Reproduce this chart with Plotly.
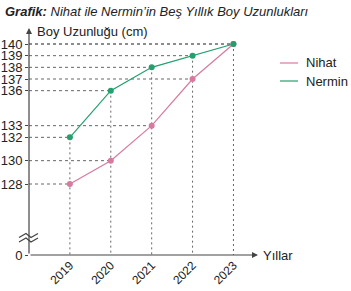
import plotly.graph_objects as go

years = [2019, 2020, 2021, 2022, 2023]
nihat = [128, 130, 133, 137, 140]
nermin = [132, 136, 138, 139, 140]
y_ticks = [128, 130, 132, 133, 136, 137, 138, 139, 140]
series_names = ["Nihat", "Nermin"]
colors = ["#d77a9f", "#23a06e"]

W, H = 351, 291
L, R, T, B = 29, 93, 28, 36
PW, PH = W - L - R, H - T - B
X0, X1 = 2018.0, 2023.6
PXY = 11.667
Y0 = 128 - (H - B - 184) / PXY
Y1 = Y0 + PH / PXY


def pp_x(p):
    return (p - L) / PW


def pp_y(p):
    return (H - B - p) / PH


fig = go.Figure()

# horizontal guide lines
hx, hy = [], []
for s in (nihat, nermin):
    for xv, yv in zip(years, s):
        hx += [X0, xv, None]
        hy += [yv, yv, None]
fig.add_trace(go.Scatter(x=hx, y=hy, mode="lines", showlegend=False, hoverinfo="skip",
                         line=dict(color="#666", width=1, dash="3px,3px")))
# vertical guide lines
vx, vy = [], []
for xv, a, b in zip(years, nihat, nermin):
    vx += [xv, xv, None]
    vy += [max(a, b), Y0, None]
fig.add_trace(go.Scatter(x=vx, y=vy, mode="lines", showlegend=False, hoverinfo="skip",
                         line=dict(color="#666", width=1, dash="2px,3px")))

for name, vals, c in zip(series_names, [nihat, nermin], colors):
    fig.add_trace(go.Scatter(x=years, y=vals, name=name, mode="lines+markers",
                             line=dict(color=c, width=1.2), marker=dict(color=c, size=6),
                             cliponaxis=False, showlegend=False))

ann = []
# axes with arrows
ann.append(dict(x=X1, y=Y0, ax=X0, ay=Y0, xref="x", yref="y", axref="x", ayref="y",
                showarrow=True, arrowhead=2, arrowsize=1, arrowwidth=1.2, arrowcolor="#444", text=""))
ann.append(dict(x=X0, y=Y1, ax=X0, ay=Y0, xref="x", yref="y", axref="x", ayref="y",
                showarrow=True, arrowhead=2, arrowsize=1, arrowwidth=1.2, arrowcolor="#444", text=""))
font = dict(family="Liberation Sans, Arial, sans-serif", size=13, color="#222")
ann.append(dict(x=pp_x(35), y=pp_y(31), xref="paper", yref="paper", text="Boy Uzunluğu (cm)",
                showarrow=False, xanchor="left", yanchor="middle", font=font))
ann.append(dict(x=pp_x(261), y=pp_y(255), xref="paper", yref="paper", text="Yıllar",
                showarrow=False, xanchor="left", yanchor="middle", font=font))
ann.append(dict(x=pp_x(3), y=pp_y(12), xref="paper", yref="paper",
                text="<b><i>Grafik:</i></b><i> Nihat ile Nermin’in Beş Yıllık Boy Uzunlukları</i>",
                showarrow=False, xanchor="left", yanchor="middle",
                font=dict(family="Liberation Sans, Arial, sans-serif", size=13, color="#222")))
# legend
shapes = []
for i, (name, c) in enumerate(zip(series_names, colors)):
    ly = 63 + i * 18
    shapes.append(dict(type="line", xref="paper", yref="paper", x0=pp_x(280), x1=pp_x(298),
                       y0=pp_y(ly), y1=pp_y(ly), line=dict(color=c, width=1.2)))
    ann.append(dict(x=pp_x(304), y=pp_y(ly), xref="paper", yref="paper", text=name, showarrow=False,
                    xanchor="left", yanchor="middle", font=font))

# axis break symbol
for off in (0, 4.5):
    pts = [(19, 237.5), (26, 233.5), (31, 237.5), (38, 233.5)]
    path = "M " + " L ".join(f"{pp_x(a)},{pp_y(b + off)}" for a, b in pts)
    shapes.append(dict(type="path", xref="paper", yref="paper", path=path,
                       line=dict(color="#444", width=1.2)))

fig.update_layout(
    width=W, height=H, margin=dict(l=L, r=R, t=T, b=B, pad=0, autoexpand=False),
    paper_bgcolor="white", plot_bgcolor="white",
    annotations=ann, shapes=shapes, showlegend=False,
    xaxis=dict(range=[X0, X1], tickvals=years, ticktext=[str(y) for y in years],
               tickangle=-45, showgrid=False, zeroline=False, showline=False, automargin=False,
               ticks="", tickfont=dict(family="Liberation Sans, Arial, sans-serif", size=12, color="#222")),
    yaxis=dict(range=[Y0, Y1], tickvals=[Y0] + y_ticks, ticktext=["0"] + [str(v) for v in y_ticks],
               showgrid=False, zeroline=False, showline=False, ticks="outside", ticklen=3,
               automargin=False, tickcolor="#444", tickfont=font),
)

fig.write_html("out.html")
